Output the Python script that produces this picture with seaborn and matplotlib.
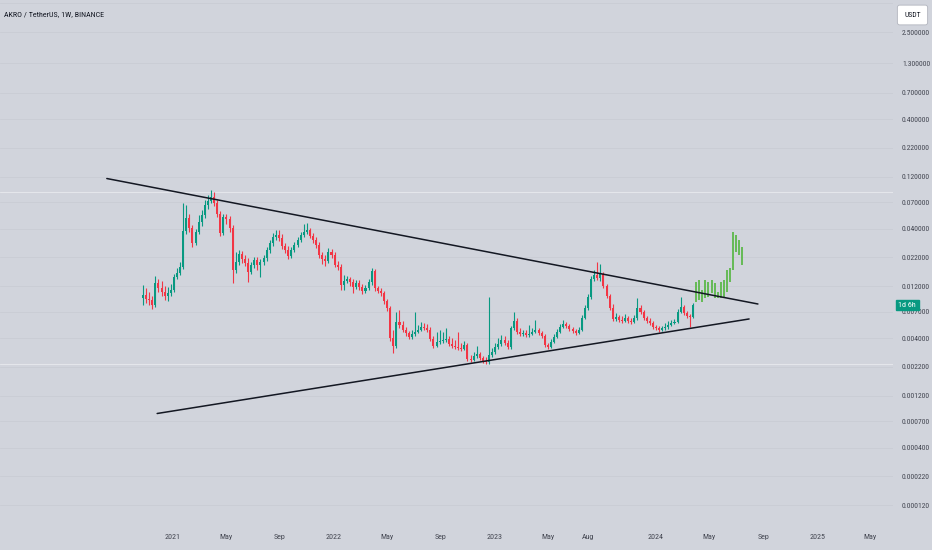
import matplotlib
matplotlib.use("Agg")
import matplotlib.pyplot as plt
import matplotlib.transforms as mtransforms
from matplotlib.ticker import NullLocator
import numpy as np
import pandas as pd
import seaborn as sns

# ------------------- DATOS (velas semanales AKRO/USDT) ------------------- #

first_week = "2020-10-26"

opens = [
    0.00933, 0.00994, 0.00914, 0.00895, 0.00806, 0.0128, 0.0115, 0.0106, 0.00973, 0.0104,
    0.0110, 0.0146, 0.0158, 0.0179, 0.0382, 0.0502, 0.0407, 0.0297, 0.0374, 0.0462,
    0.0535, 0.0660, 0.0718, 0.0780, 0.0688, 0.0546, 0.0367, 0.0513, 0.0492, 0.0407,
    0.0168, 0.0199, 0.0236, 0.0212, 0.0195, 0.0162, 0.0187, 0.0208, 0.0187, 0.0199,
    0.0217, 0.0256, 0.0297, 0.0337, 0.0351, 0.0330, 0.0279, 0.0256, 0.0226, 0.0256,
    0.0285, 0.0316, 0.0351, 0.0374, 0.0390, 0.0344, 0.0316, 0.0285, 0.0231, 0.0212,
    0.0203, 0.0246, 0.0231, 0.0187, 0.0179, 0.0123, 0.0134, 0.0140, 0.0131, 0.0118,
    0.0128, 0.0118, 0.0108, 0.0115, 0.0131, 0.0165, 0.0115, 0.0108, 0.0104, 0.00876,
    0.00756, 0.00403, 0.00340, 0.00563, 0.00529, 0.00476, 0.00447, 0.00411, 0.00438, 0.00457,
    0.00476, 0.00507, 0.00497, 0.00476, 0.00394, 0.00340, 0.00370, 0.00378, 0.00386, 0.00394,
    0.00355, 0.00340, 0.00333, 0.00326, 0.00320, 0.00348, 0.00259, 0.00254, 0.00276, 0.00288,
    0.00265, 0.00249, 0.00243, 0.00282, 0.00300, 0.00333, 0.00355, 0.00386, 0.00362, 0.00333,
    0.00497, 0.00575, 0.00457, 0.00438, 0.00447, 0.00429, 0.00438, 0.00457, 0.00476, 0.00447,
    0.00420, 0.00348, 0.00333, 0.00370, 0.00411, 0.00457, 0.00507, 0.00540, 0.00518, 0.00486,
    0.00466, 0.00447, 0.00476, 0.00613, 0.00756, 0.00953, 0.0140, 0.0152, 0.0143, 0.0155,
    0.0120, 0.00973, 0.00756, 0.00600, 0.00626, 0.00588, 0.00575, 0.00613, 0.00575, 0.00563,
    0.00613, 0.00756, 0.00695, 0.00613, 0.00575, 0.00552, 0.00507, 0.00497, 0.00476, 0.00497,
    0.00507, 0.00529, 0.00552, 0.00563, 0.00695, 0.00772, 0.00681, 0.00639, 0.00626,
]

highs = [
    0.0123, 0.0115, 0.0106, 0.00973, 0.0149, 0.0140, 0.0134, 0.0120, 0.0118, 0.0125,
    0.0155, 0.0176, 0.0199, 0.0688, 0.0660, 0.0546, 0.0433, 0.0399, 0.0535, 0.0594,
    0.0733, 0.0814, 0.0904, 0.0867, 0.0733, 0.0582, 0.0546, 0.0546, 0.0524, 0.0433,
    0.0246, 0.0256, 0.0251, 0.0231, 0.0217, 0.0199, 0.0221, 0.0221, 0.0212, 0.0231,
    0.0273, 0.0316, 0.0367, 0.0390, 0.0390, 0.0359, 0.0297, 0.0279, 0.0273, 0.0303,
    0.0337, 0.0374, 0.0443, 0.0452, 0.0407, 0.0367, 0.0337, 0.0303, 0.0246, 0.0231,
    0.0267, 0.0262, 0.0246, 0.0203, 0.0191, 0.0152, 0.0149, 0.0146, 0.0140, 0.0136,
    0.0136, 0.0125, 0.0123, 0.0140, 0.0176, 0.0172, 0.0120, 0.0115, 0.0108, 0.00914,
    0.00789, 0.00476, 0.00695, 0.00725, 0.00575, 0.00507, 0.00466, 0.00476, 0.00695, 0.00529,
    0.00563, 0.00552, 0.00540, 0.00507, 0.00420, 0.00457, 0.00476, 0.00457, 0.00497, 0.00420,
    0.00403, 0.00386, 0.00457, 0.00362, 0.00378, 0.00362, 0.00282, 0.00300, 0.00340, 0.00300,
    0.00276, 0.00270, 0.00953, 0.00326, 0.00362, 0.00403, 0.00429, 0.00420, 0.00386, 0.00518,
    0.00695, 0.00613, 0.00497, 0.00476, 0.00476, 0.00529, 0.00497, 0.00588, 0.00497, 0.00466,
    0.00438, 0.00362, 0.00394, 0.00438, 0.00486, 0.00540, 0.00588, 0.00563, 0.00540, 0.00507,
    0.00486, 0.00507, 0.00653, 0.00806, 0.0101, 0.0149, 0.0168, 0.0199, 0.0191, 0.0162,
    0.0125, 0.0101, 0.00823, 0.00681, 0.00653, 0.00639, 0.00667, 0.00639, 0.00613, 0.00653,
    0.00933, 0.00806, 0.00725, 0.00639, 0.00613, 0.00575, 0.00529, 0.00518, 0.00518, 0.00552,
    0.00575, 0.00588, 0.00600, 0.00741, 0.00953, 0.00806, 0.00710, 0.00667, 0.00840,
]

lows = [
    0.00806, 0.00840, 0.00806, 0.00741, 0.00772, 0.0106, 0.00973, 0.00895, 0.00876, 0.00973,
    0.0106, 0.0140, 0.0152, 0.0172, 0.0359, 0.0374, 0.0273, 0.0285, 0.0359, 0.0424,
    0.0502, 0.0607, 0.0688, 0.0646, 0.0513, 0.0344, 0.0351, 0.0443, 0.0374, 0.0128,
    0.0158, 0.0187, 0.0195, 0.0183, 0.0131, 0.0155, 0.0176, 0.0168, 0.0146, 0.0187,
    0.0203, 0.0241, 0.0279, 0.0316, 0.0310, 0.0262, 0.0241, 0.0212, 0.0217, 0.0246,
    0.0273, 0.0303, 0.0337, 0.0359, 0.0330, 0.0297, 0.0267, 0.0217, 0.0191, 0.0183,
    0.0195, 0.0217, 0.0179, 0.0168, 0.0110, 0.0110, 0.0128, 0.0120, 0.0104, 0.0113,
    0.0110, 0.0101, 0.0104, 0.0110, 0.0123, 0.0108, 0.0104, 0.00973, 0.00823, 0.00710,
    0.00378, 0.00294, 0.00326, 0.00497, 0.00457, 0.00420, 0.00394, 0.00394, 0.00420, 0.00447,
    0.00466, 0.00476, 0.00457, 0.00378, 0.00326, 0.00333, 0.00355, 0.00362, 0.00370, 0.00340,
    0.00326, 0.00320, 0.00313, 0.00306, 0.00313, 0.00249, 0.00243, 0.00249, 0.00265, 0.00254,
    0.00238, 0.00233, 0.00233, 0.00270, 0.00288, 0.00320, 0.00340, 0.00348, 0.00320, 0.00320,
    0.00476, 0.00438, 0.00420, 0.00420, 0.00411, 0.00411, 0.00429, 0.00447, 0.00429, 0.00403,
    0.00333, 0.00320, 0.00326, 0.00362, 0.00403, 0.00447, 0.00497, 0.00497, 0.00466, 0.00447,
    0.00429, 0.00438, 0.00466, 0.00600, 0.00725, 0.00914, 0.0134, 0.0136, 0.0134, 0.0115,
    0.00933, 0.00725, 0.00575, 0.00575, 0.00563, 0.00552, 0.00563, 0.00552, 0.00540, 0.00552,
    0.00588, 0.00667, 0.00588, 0.00552, 0.00529, 0.00486, 0.00476, 0.00457, 0.00466, 0.00476,
    0.00486, 0.00518, 0.00540, 0.00552, 0.00681, 0.00653, 0.00613, 0.00507, 0.00613,
]

closes = [
    0.00994, 0.00914, 0.00895, 0.00806, 0.0128, 0.0115, 0.0106, 0.00973, 0.0104, 0.0110,
    0.0146, 0.0158, 0.0179, 0.0382, 0.0502, 0.0407, 0.0297, 0.0374, 0.0462, 0.0535,
    0.0660, 0.0718, 0.0780, 0.0688, 0.0546, 0.0367, 0.0513, 0.0492, 0.0407, 0.0168,
    0.0199, 0.0236, 0.0212, 0.0195, 0.0162, 0.0187, 0.0208, 0.0187, 0.0199, 0.0217,
    0.0256, 0.0297, 0.0337, 0.0351, 0.0330, 0.0279, 0.0256, 0.0226, 0.0256, 0.0285,
    0.0316, 0.0351, 0.0374, 0.0390, 0.0344, 0.0316, 0.0285, 0.0231, 0.0212, 0.0203,
    0.0246, 0.0231, 0.0187, 0.0179, 0.0123, 0.0134, 0.0140, 0.0131, 0.0118, 0.0128,
    0.0118, 0.0108, 0.0115, 0.0131, 0.0165, 0.0115, 0.0108, 0.0104, 0.00876, 0.00756,
    0.00403, 0.00340, 0.00563, 0.00529, 0.00476, 0.00447, 0.00411, 0.00438, 0.00457, 0.00476,
    0.00507, 0.00497, 0.00476, 0.00394, 0.00340, 0.00370, 0.00378, 0.00386, 0.00394, 0.00355,
    0.00340, 0.00333, 0.00326, 0.00320, 0.00348, 0.00259, 0.00254, 0.00276, 0.00288, 0.00265,
    0.00249, 0.00243, 0.00282, 0.00300, 0.00333, 0.00355, 0.00386, 0.00362, 0.00333, 0.00497,
    0.00575, 0.00457, 0.00438, 0.00447, 0.00429, 0.00438, 0.00457, 0.00476, 0.00447, 0.00420,
    0.00348, 0.00333, 0.00370, 0.00411, 0.00457, 0.00507, 0.00540, 0.00518, 0.00486, 0.00466,
    0.00447, 0.00476, 0.00613, 0.00756, 0.00953, 0.0140, 0.0152, 0.0143, 0.0155, 0.0120,
    0.00973, 0.00756, 0.00600, 0.00626, 0.00588, 0.00575, 0.00613, 0.00575, 0.00563, 0.00613,
    0.00756, 0.00695, 0.00613, 0.00575, 0.00552, 0.00507, 0.00497, 0.00476, 0.00497, 0.00507,
    0.00529, 0.00552, 0.00563, 0.00695, 0.00772, 0.00681, 0.00639, 0.00626, 0.00806,
]

# barras proyectadas (verdes) después de la última vela
proj_start = "2024-04-01"
proj_high = [0.0131, 0.0136, 0.0110, 0.0136, 0.0131, 0.0136, 0.0128, 0.0106,
             0.0131, 0.0136, 0.0168, 0.0176, 0.0374, 0.0351, 0.0316, 0.0273]
proj_low = [0.00858, 0.00895, 0.00858, 0.00933, 0.00953, 0.0104, 0.00933, 0.00933,
            0.00933, 0.00933, 0.0106, 0.0131, 0.0168, 0.0246, 0.0231, 0.0187]

# líneas del triángulo
upper_dates = ["2020-08-05", "2024-08-19"]
upper_prices = [0.115, 0.00822]
lower_dates = ["2020-11-27", "2024-07-30"]
lower_prices = [0.000822, 0.0060]

# líneas horizontales
level_prices = [0.0866, 0.00233]

price_ticks = [2.5, 1.3, 0.7, 0.4, 0.22, 0.12, 0.07, 0.04, 0.022, 0.012,
               0.007, 0.004, 0.0022, 0.0012, 0.0007, 0.0004, 0.00022, 0.00012]
grid_prices = [4.6] + price_ticks
time_ticks = ["2021-01-01", "2021-05-01", "2021-09-01", "2022-01-01", "2022-05-01",
              "2022-09-01", "2023-01-01", "2023-05-01", "2023-08-01", "2024-01-01",
              "2024-05-01", "2024-09-01", "2025-01-01", "2025-05-01"]
time_labels = ["2021", "May", "Sep", "2022", "May", "Sep", "2023", "May", "Aug",
               "2024", "May", "Sep", "2025", "May"]

# ------------------- ESTILO ------------------- #

BG = "#d1d4dc"
UP = "#089981"
DOWN = "#f23645"
PROJ = "#5cb84a"
TXT = "#131722"
AXTXT = "#434651"

sns.set_theme(style="white", rc={"figure.facecolor": BG, "axes.facecolor": BG})
plt.rcParams["font.family"] = ["Roboto Condensed", "Liberation Sans Narrow",
                               "Liberation Sans", "DejaVu Sans"]

df = pd.DataFrame({
    "date": pd.date_range(first_week, periods=len(closes), freq="7D"),
    "open": opens, "high": highs, "low": lows, "close": closes,
})
df["up"] = df["close"] >= df["open"]
df["color"] = np.where(df["up"], UP, DOWN)
df["body_lo"] = df[["open", "close"]].min(axis=1)
df["body_hi"] = df[["open", "close"]].max(axis=1)

proj = pd.DataFrame({
    "date": pd.date_range(proj_start, periods=len(proj_high), freq="7D"),
    "high": proj_high, "low": proj_low,
})

fig = plt.figure(figsize=(9.32, 5.5), dpi=100)
ax = fig.add_axes([0, 27 / 550, 893 / 932, 523 / 550])
ax.set_yscale("log")

# rejilla y niveles
for p in grid_prices:
    ax.axhline(p, color="#c9ccd4", lw=0.6, zorder=0)
for p in level_prices:
    ax.axhline(p, color="#e4e6eb", lw=0.8, zorder=1)

# velas
ax.vlines(df["date"], df["low"], df["high"], colors=df["color"], lw=0.8, zorder=3)
ax.bar(df["date"], df["body_hi"] - df["body_lo"], bottom=df["body_lo"], width=4.6,
       color=df["color"], linewidth=0, zorder=4)

# barras proyectadas
ax.vlines(proj["date"], proj["low"], proj["high"], colors=PROJ, lw=1.3, zorder=3)

# triángulo
tri = pd.DataFrame({
    "date": pd.to_datetime(upper_dates + lower_dates),
    "price": upper_prices + lower_prices,
    "line": ["upper", "upper", "lower", "lower"],
})
sns.lineplot(data=tri, x="date", y="price", units="line", estimator=None,
             color=TXT, lw=1.1, ax=ax, zorder=5)

ax.set_ylim(8.22e-5, 4.91)
ax.set_xlim(pd.Timestamp("2019-12-07"), pd.Timestamp("2025-06-21"))

ax.yaxis.tick_right()
ax.set_yticks(price_ticks)
ax.set_yticklabels([f"{p:.6f}" for p in price_ticks])
ax.yaxis.set_minor_locator(NullLocator())
ax.tick_params(axis="y", length=0, pad=6.5, labelsize=5.5, labelcolor=AXTXT)
ax.set_xticks(pd.to_datetime(time_ticks))
ax.set_xticklabels(time_labels)
ax.tick_params(axis="x", length=0, pad=8, labelsize=5.8, labelcolor=AXTXT)
ax.set_xlabel("")
ax.set_ylabel("")
for s in ax.spines.values():
    s.set_visible(False)

# etiqueta del último precio
trans = mtransforms.blended_transform_factory(ax.transAxes, ax.transData)
ax.text(1.006, closes[-1], "1d 6h", transform=trans, fontsize=5.8, color="white",
        va="center", ha="left", clip_on=False, zorder=10,
        bbox=dict(boxstyle="square,pad=0.3", fc=UP, ec=UP))

# título y caja de moneda
fig.text(4 / 932, 1 - 14 / 550, "AKRO / TetherUS, 1W, BINANCE", fontsize=5.8,
         color=TXT, va="center", ha="left",
         bbox=dict(boxstyle="square,pad=0.6", fc=BG, ec="none"))
fig.text(912.5 / 932, 1 - 15 / 550, "USDT", fontsize=5.5, color=TXT, va="center",
         ha="center",
         bbox=dict(boxstyle="round,pad=0.9,rounding_size=0.3", fc="white",
                   ec="#b2b5be", lw=0.6))

fig.savefig("out.png", dpi=100, facecolor=BG)
plt.close(fig)
